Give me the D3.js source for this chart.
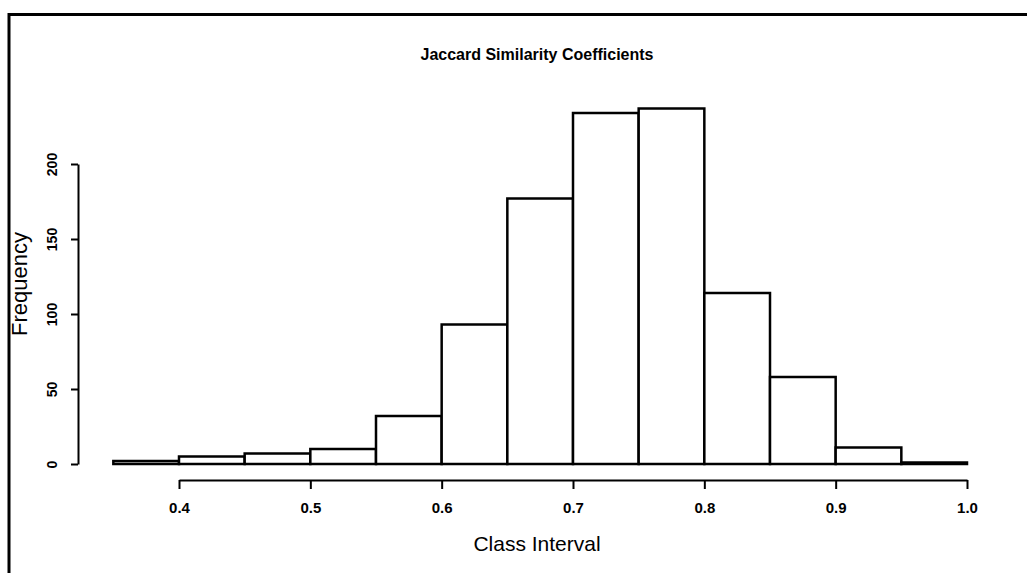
<!DOCTYPE html>
<html>
<head>
<meta charset="utf-8">
<script src="https://cdn.jsdelivr.net/npm/d3@7"></script>
<style>
  body { margin: 0; background: #fff; }
  svg text { font-family: 'Liberation Sans', Arial, sans-serif; fill: #000; }
</style>
</head>
<body>
<svg id="chart" width="1027" height="573"></svg>
<script>
// histogram bins (left edges) and counts
const binStarts = [0.35, 0.40, 0.45, 0.50, 0.55, 0.60, 0.65, 0.70, 0.75, 0.80, 0.85, 0.90, 0.95];
const binWidth = 0.05;
const counts = [2, 5, 7, 10, 32, 93, 177, 234, 237, 114, 58, 11, 1];
const xTicks = [0.4, 0.5, 0.6, 0.7, 0.8, 0.9, 1.0];
const yTicks = [0, 50, 100, 150, 200];

const svg = d3.select('#chart');

// page frame (runs off right and bottom edges)
svg.append('rect')
  .attr('x', 9).attr('y', 14.5)
  .attr('width', 1100).attr('height', 700)
  .attr('fill', 'none')
  .attr('stroke', '#000')
  .attr('stroke-width', 3);

const x = d3.scaleLinear().domain([0.4, 1.0]).range([179, 967]);
const y = d3.scaleLinear().domain([0, 200]).range([464, 164]);

// bars
svg.selectAll('.bar')
  .data(binStarts)
  .enter().append('rect')
    .attr('class', 'bar')
    .attr('x', d => x(d))
    .attr('y', (d, i) => y(counts[i]))
    .attr('width', d => x(d + binWidth) - x(d))
    .attr('height', (d, i) => y(0) - y(counts[i]))
    .attr('fill', '#fff')
    .attr('stroke', '#000')
    .attr('stroke-width', 2.5);

// axes
const xAxis = d3.axisBottom(x)
  .tickValues(xTicks)
  .tickFormat(d3.format('.1f'))
  .tickSizeOuter(0)
  .tickSizeInner(9)
  .tickPadding(13);

const yAxis = d3.axisLeft(y)
  .tickValues(yTicks)
  .tickSizeOuter(0)
  .tickSizeInner(7);

const gx = svg.append('g')
  .attr('transform', 'translate(0,480)')
  .call(xAxis);

gx.selectAll('path, line').attr('stroke', '#000').attr('stroke-width', 2);
gx.selectAll('text')
  .style('font-size', '15px')
  .style('font-weight', 'bold');

const gy = svg.append('g')
  .attr('transform', 'translate(78,0)')
  .call(yAxis);

gy.selectAll('path, line').attr('stroke', '#000').attr('stroke-width', 2);
gy.selectAll('text')
  .attr('x', null).attr('dy', null)
  .attr('text-anchor', 'middle')
  .attr('transform', 'translate(-21,0) rotate(-90)')
  .attr('y', 0)
  .style('font-size', '14px')
  .style('font-weight', 'bold');

// titles
svg.append('text')
  .attr('x', 537).attr('y', 60)
  .attr('text-anchor', 'middle')
  .style('font-size', '16px')
  .style('font-weight', 'bold')
  .text('Jaccard Similarity Coefficients');

svg.append('text')
  .attr('x', 537).attr('y', 551)
  .attr('text-anchor', 'middle')
  .style('font-size', '21px')
  .text('Class Interval');

svg.append('text')
  .attr('transform', 'translate(27,284) rotate(-90)')
  .attr('text-anchor', 'middle')
  .style('font-size', '22px')
  .text('Frequency');
</script>
</body>
</html>
